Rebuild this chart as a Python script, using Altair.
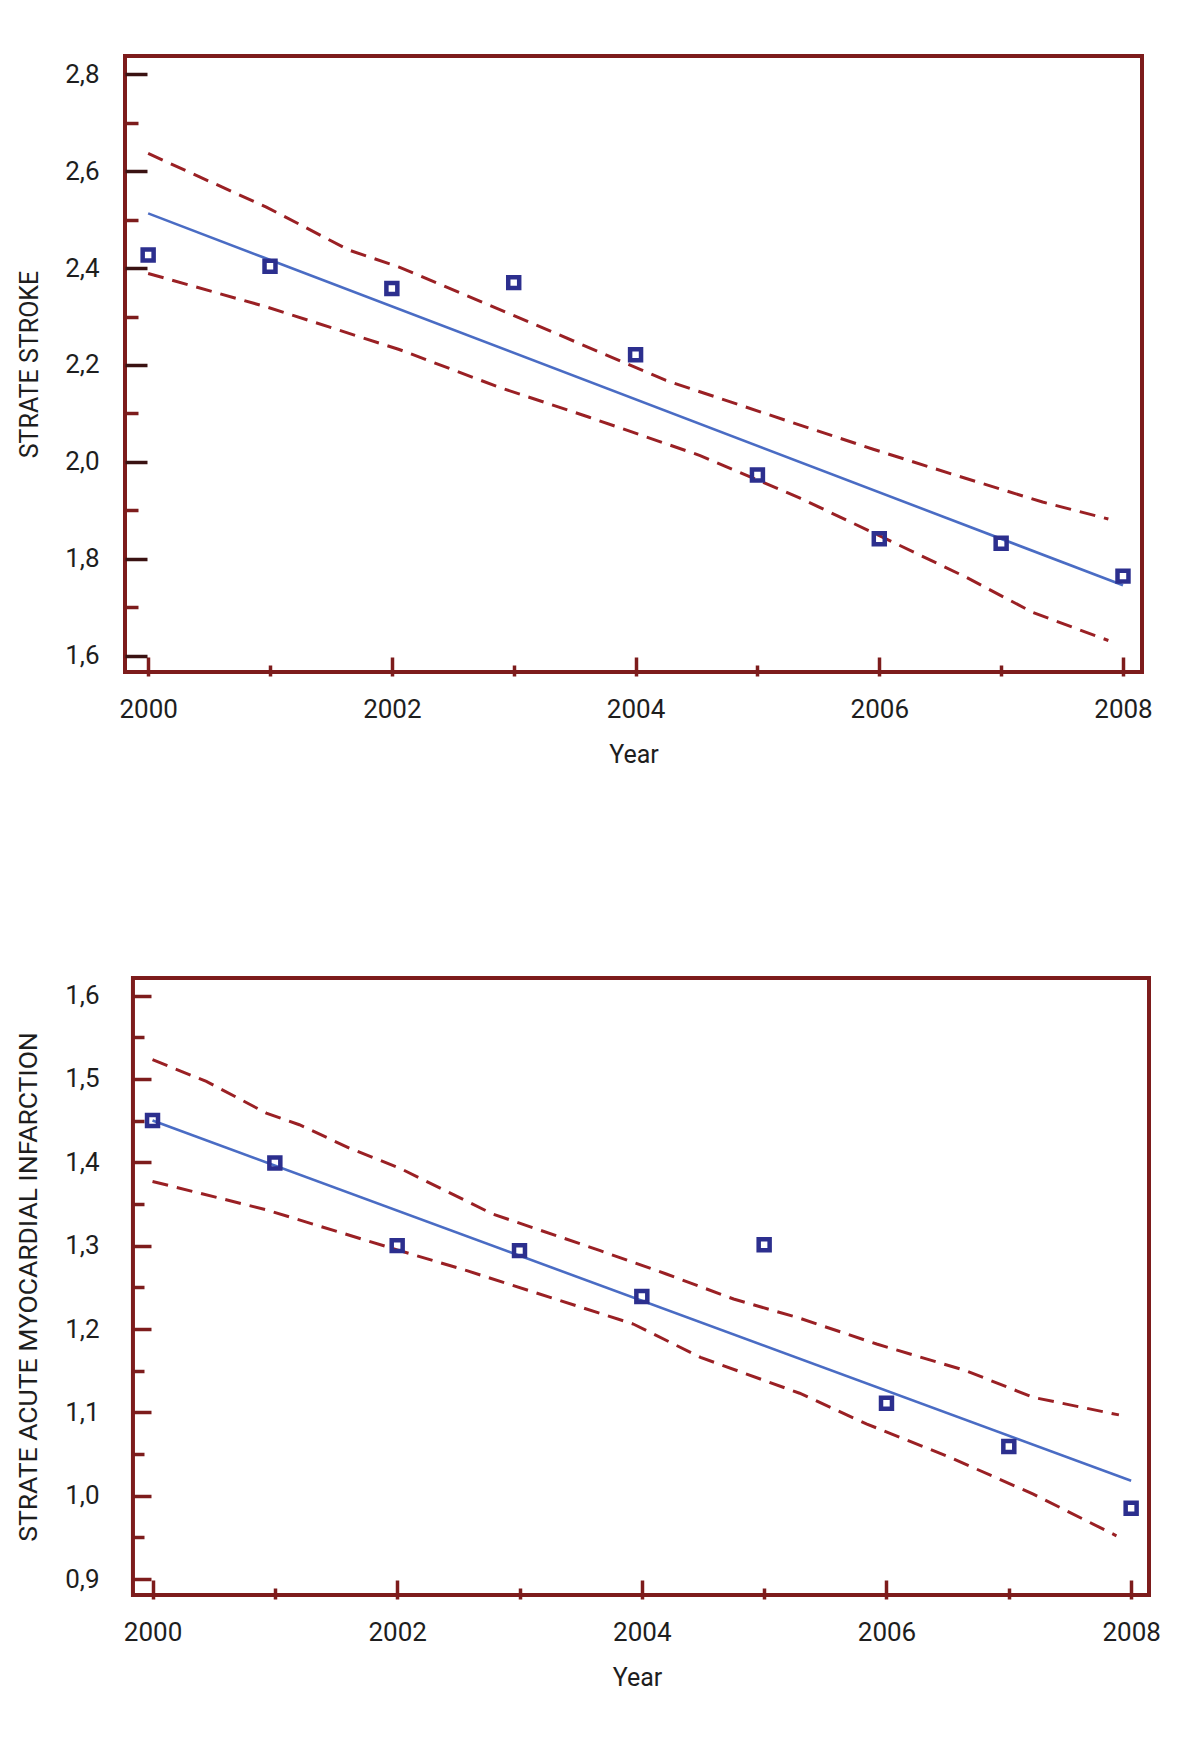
import altair as alt
import pandas as pd

# ---------------- data ----------------
years = [2000, 2001, 2002, 2003, 2004, 2005, 2006, 2007, 2008]

stroke_rate = [2.427, 2.404, 2.358, 2.370, 2.221, 1.973, 1.841, 1.832, 1.764]
stroke_fit_years = [2000, 2008]
stroke_fit = [2.513, 1.745]
stroke_upper_years = [2000.0, 2000.32, 2000.97, 2001.65, 2002.06, 2003.16, 2004.25,
                      2005.3, 2005.95, 2006.63, 2007.34, 2007.88]
stroke_upper = [2.637, 2.600, 2.526, 2.437, 2.402, 2.285, 2.168,
                2.080, 2.026, 1.972, 1.917, 1.882]
stroke_lower_years = [2000.0, 2000.97, 2002.06, 2002.88, 2003.62, 2004.53,
                      2005.35, 2006.03, 2006.71, 2007.26, 2007.88]
stroke_lower = [2.389, 2.320, 2.232, 2.154, 2.092, 2.013,
                1.925, 1.844, 1.762, 1.689, 1.631]

ami_rate = [1.450, 1.399, 1.300, 1.294, 1.239, 1.301, 1.111, 1.059, 0.985]
ami_fit_years = [2000, 2008]
ami_fit = [1.450, 1.018]
ami_upper_years = [2000.0, 2000.44, 2000.93, 2001.2, 2001.61, 2002.02, 2002.78, 2003.66,
                   2004.2, 2004.75, 2005.29, 2005.92, 2006.65, 2007.2, 2007.9]
ami_upper = [1.523, 1.497, 1.459, 1.445, 1.417, 1.393, 1.338, 1.294,
             1.266, 1.236, 1.213, 1.182, 1.150, 1.118, 1.097]
ami_lower_years = [2000.0, 2000.93, 2002.02, 2002.57, 2003.25, 2003.93, 2004.48,
                   2005.29, 2005.84, 2006.52, 2007.2, 2007.88]
ami_lower = [1.377, 1.343, 1.294, 1.270, 1.238, 1.206, 1.166,
             1.123, 1.086, 1.046, 1.002, 0.952]

x_major = [2000, 2002, 2004, 2006, 2008]
x_minor = [2001, 2003, 2005, 2007]
stroke_y_major = [1.6, 1.8, 2.0, 2.2, 2.4, 2.6, 2.8]
stroke_y_minor = [1.7, 1.9, 2.1, 2.3, 2.5, 2.7]
ami_y_major = [0.9, 1.0, 1.1, 1.2, 1.3, 1.4, 1.5, 1.6]
ami_y_minor = [0.95, 1.05, 1.15, 1.25, 1.35, 1.45, 1.55]

# ---------------- style ----------------
FONT = "Roboto"
TXT = "#1e1e1e"
RED = "#7d1c1c"
DARK = "#3a1212"
DASH = "#9a2024"
LINE = "#4a6cc4"
PT = "#2c2f8e"


def panel(rate, fit_years, fit, up_years, up, lo_years, lo,
          y_title, title_size, y_domain, x_domain, frame_x, y_major, y_minor,
          major_len, minor_len, inset, label_pad, major_tick_color, w, h,
          own_frame):
    pts = pd.DataFrame({"year": years, "value": rate})
    fitdf = pd.DataFrame({"year": fit_years, "value": fit})
    updf = pd.DataFrame({"year": up_years, "value": up})
    lodf = pd.DataFrame({"year": lo_years, "value": lo})

    xs = alt.Scale(domain=x_domain, nice=False, zero=False)
    ys = alt.Scale(domain=y_domain, nice=False, zero=False)

    lab = "replace(format(datum.value, '.1f'), '.', ',')"

    x_axis_major = alt.Axis(
        orient="bottom", values=x_major, format="d", offset=-15, tickSize=19,
        tickWidth=3.5, tickColor=RED, domain=False, grid=False, labelFont=FONT,
        labelFontSize=26, labelColor=TXT, labelPadding=20, labelFlush=False,
        title="Year", titleFont=FONT, titleFontSize=25, titleFontWeight="normal",
        titleColor=TXT, titlePadding=20)
    y_axis_major = alt.Axis(
        orient="left", values=y_major, labelExpr=lab, offset=-(major_len + inset),
        tickSize=major_len, tickWidth=3.5, tickColor=major_tick_color,
        domain=False, grid=False, labelFont=FONT, labelFontSize=26,
        labelColor=TXT, labelPadding=label_pad, title=y_title, titleFont=FONT,
        titleFontSize=title_size, titleFontWeight="normal", titleColor=TXT,
        titlePadding=22)
    x_axis_minor = alt.Axis(
        orient="bottom", values=x_minor, offset=-7, tickSize=11, tickWidth=3.5,
        tickColor=RED, domain=False, grid=False, labels=False, title=None)
    y_axis_minor = alt.Axis(
        orient="left", values=y_minor, offset=-(minor_len + inset),
        tickSize=minor_len, tickWidth=3.5, tickColor=RED, domain=False,
        grid=False, labels=False, title=None)

    layers = []
    if own_frame:
        fr = pd.DataFrame({"x": [frame_x[0]], "x2": [frame_x[1]],
                           "y": [y_domain[0]], "y2": [y_domain[1]]})
        layers.append(alt.Chart(fr).mark_rect(
            filled=False, stroke=RED, strokeWidth=4
        ).encode(
            x=alt.X("x:Q", scale=xs, axis=None), x2="x2:Q",
            y=alt.Y("y:Q", scale=ys, axis=None), y2="y2:Q",
        ))

    upper = alt.Chart(updf).mark_line(
        color=DASH, strokeWidth=3, strokeDash=[16, 9]
    ).encode(
        x=alt.X("year:Q", scale=xs, axis=None),
        y=alt.Y("value:Q", scale=ys, axis=None),
    )
    lower = alt.Chart(lodf).mark_line(
        color=DASH, strokeWidth=3, strokeDash=[16, 9]
    ).encode(
        x=alt.X("year:Q", scale=xs, axis=None),
        y=alt.Y("value:Q", scale=ys, axis=None),
    )
    fitline = alt.Chart(fitdf).mark_line(color=LINE, strokeWidth=2.6).encode(
        x=alt.X("year:Q", scale=xs, axis=x_axis_minor),
        y=alt.Y("value:Q", scale=ys, axis=y_axis_minor),
    )
    points = alt.Chart(pts).mark_point(
        shape="square", filled=False, size=120, strokeWidth=4.5, color=PT,
        opacity=1
    ).encode(
        x=alt.X("year:Q", scale=xs, axis=x_axis_major),
        y=alt.Y("value:Q", scale=ys, axis=y_axis_major),
    )
    layers += [upper, lower, fitline, points]
    ch = alt.layer(*layers).resolve_axis(
        x="independent", y="independent"
    ).properties(width=w, height=h)
    if own_frame:
        ch = ch.properties(view=alt.ViewBackground(stroke="transparent"))
    return ch


# top panel: plot area = frame, x from 125 to 1142 px
top = panel(stroke_rate, stroke_fit_years, stroke_fit, stroke_upper_years,
            stroke_upper, stroke_lower_years, stroke_lower,
            "STRATE STROKE", 25, [1.566, 2.838], [1999.81, 2008.156],
            [1999.81, 2008.156], stroke_y_major, stroke_y_minor,
            22, 13, 0, 26, DARK, 1017, 616, False)

# bottom panel: plot area 125..1149 px, frame starts 8 px in
bottom = panel(ami_rate, ami_fit_years, ami_fit, ami_upper_years, ami_upper,
               ami_lower_years, ami_lower,
               "STRATE ACUTE MYOCARDIAL INFARCTION", 26.5, [0.881, 1.621],
               [1999.775, 2008.146], [1999.84, 2008.146], ami_y_major,
               ami_y_minor, 18, 11, 8, 34, RED, 1024, 617, True)

chart = alt.ConcatChart(
    concat=[top, bottom], columns=1, spacing=205
).properties(
    padding={"left": 5, "top": 46, "right": 10, "bottom": 10},
    background="white",
).configure_view(
    stroke=RED, strokeWidth=4
)

chart.save("out.html", embed_options={"renderer": "svg", "actions": False})
